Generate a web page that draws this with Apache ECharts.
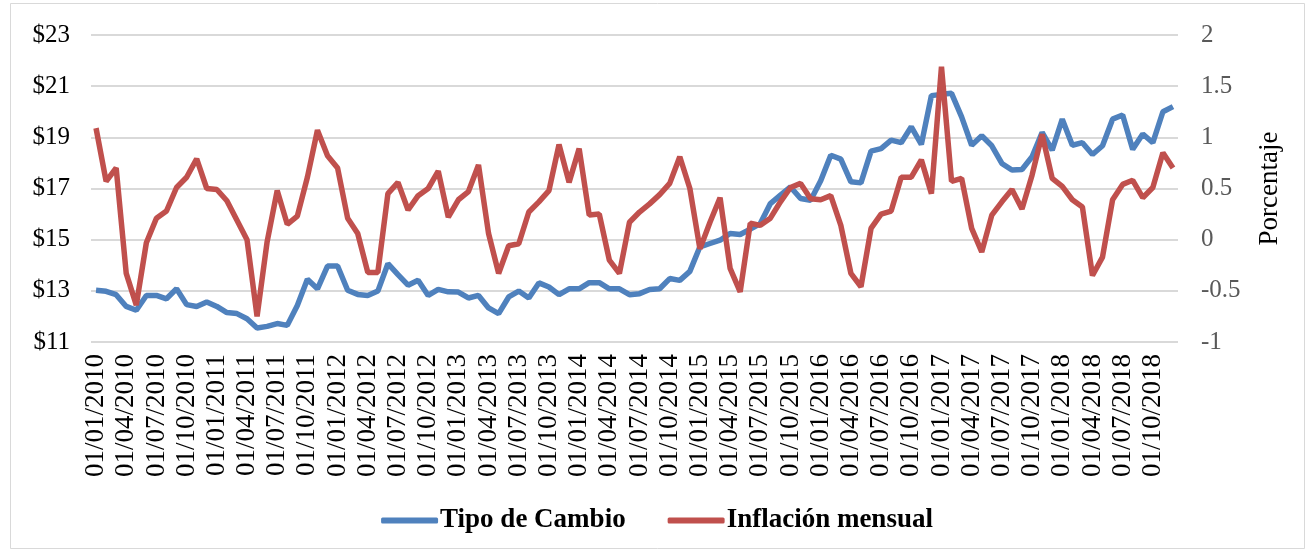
<!DOCTYPE html>
<html>
<head>
<meta charset="utf-8">
<title>Tipo de Cambio e Inflación mensual</title>
<script src="https://cdn.jsdelivr.net/npm/echarts@6/dist/echarts.min.js"></script>
<style>
  html, body { margin: 0; padding: 0; background: #fff; }
  #chart { width: 1314px; height: 553px; }
</style>
</head>
<body>
<div id="chart"></div>
<script>
// fechas mensuales (dd/mm/aaaa)
const fechas = [
  '01/01/2010','01/02/2010','01/03/2010','01/04/2010','01/05/2010','01/06/2010','01/07/2010','01/08/2010','01/09/2010','01/10/2010','01/11/2010','01/12/2010',
  '01/01/2011','01/02/2011','01/03/2011','01/04/2011','01/05/2011','01/06/2011','01/07/2011','01/08/2011','01/09/2011','01/10/2011','01/11/2011','01/12/2011',
  '01/01/2012','01/02/2012','01/03/2012','01/04/2012','01/05/2012','01/06/2012','01/07/2012','01/08/2012','01/09/2012','01/10/2012','01/11/2012','01/12/2012',
  '01/01/2013','01/02/2013','01/03/2013','01/04/2013','01/05/2013','01/06/2013','01/07/2013','01/08/2013','01/09/2013','01/10/2013','01/11/2013','01/12/2013',
  '01/01/2014','01/02/2014','01/03/2014','01/04/2014','01/05/2014','01/06/2014','01/07/2014','01/08/2014','01/09/2014','01/10/2014','01/11/2014','01/12/2014',
  '01/01/2015','01/02/2015','01/03/2015','01/04/2015','01/05/2015','01/06/2015','01/07/2015','01/08/2015','01/09/2015','01/10/2015','01/11/2015','01/12/2015',
  '01/01/2016','01/02/2016','01/03/2016','01/04/2016','01/05/2016','01/06/2016','01/07/2016','01/08/2016','01/09/2016','01/10/2016','01/11/2016','01/12/2016',
  '01/01/2017','01/02/2017','01/03/2017','01/04/2017','01/05/2017','01/06/2017','01/07/2017','01/08/2017','01/09/2017','01/10/2017','01/11/2017','01/12/2017',
  '01/01/2018','01/02/2018','01/03/2018','01/04/2018','01/05/2018','01/06/2018','01/07/2018','01/08/2018','01/09/2018','01/10/2018','01/11/2018','01/12/2018'
];

// pesos por dólar
const tipoCambio = [
  13.02, 12.98, 12.85, 12.39, 12.24, 12.82, 12.82, 12.69, 13.08, 12.46, 12.39, 12.56,
  12.39, 12.15, 12.11, 11.91, 11.55, 11.61, 11.72, 11.65, 12.43, 13.45, 13.08, 13.97,
  13.97, 13.02, 12.86, 12.82, 12.99, 14.06, 13.63, 13.22, 13.41, 12.82, 13.06, 12.96,
  12.95, 12.72, 12.82, 12.33, 12.11, 12.76, 12.99, 12.72, 13.31, 13.15, 12.85, 13.08,
  13.08, 13.32, 13.32, 13.08, 13.08, 12.85, 12.89, 13.05, 13.08, 13.48, 13.41, 13.76,
  14.72, 14.85, 14.98, 15.24, 15.20, 15.41, 15.63, 16.41, 16.74, 17.06, 16.61, 16.54,
  17.30, 18.30, 18.15, 17.26, 17.22, 18.46, 18.56, 18.89, 18.79, 19.41, 18.72, 20.63,
  20.68, 20.72, 19.80, 18.69, 19.06, 18.67, 17.98, 17.72, 17.74, 18.24, 19.19, 18.50,
  19.71, 18.69, 18.79, 18.33, 18.67, 19.71, 19.87, 18.53, 19.13, 18.79, 20.00, 20.20
];

// inflación mensual (%)
const inflacion = [
  1.09, 0.57, 0.70, -0.33, -0.64, -0.03, 0.21, 0.28, 0.51, 0.61, 0.79, 0.50,
  0.49, 0.38, 0.19, 0.00, -0.75, -0.02, 0.48, 0.15, 0.23, 0.61, 1.07, 0.82,
  0.70, 0.21, 0.06, -0.32, -0.32, 0.45, 0.56, 0.29, 0.43, 0.50, 0.67, 0.22,
  0.39, 0.47, 0.73, 0.06, -0.33, -0.06, -0.04, 0.27, 0.37, 0.48, 0.93, 0.56,
  0.89, 0.24, 0.25, -0.20, -0.33, 0.17, 0.27, 0.35, 0.44, 0.55, 0.81, 0.50,
  -0.09, 0.17, 0.41, -0.28, -0.51, 0.16, 0.14, 0.21, 0.37, 0.51, 0.55, 0.40,
  0.39, 0.43, 0.14, -0.33, -0.46, 0.11, 0.25, 0.28, 0.61, 0.61, 0.78, 0.45,
  1.69, 0.57, 0.60, 0.11, -0.12, 0.24, 0.37, 0.49, 0.30, 0.63, 1.03, 0.60,
  0.52, 0.39, 0.32, -0.35, -0.17, 0.39, 0.54, 0.58, 0.41, 0.51, 0.85, 0.70
];

const serif = "'Liberation Serif', 'Times New Roman', serif";

const chart = echarts.init(document.getElementById('chart'), null, { renderer: 'canvas' });

const option = {
  backgroundColor: '#fff',
  animation: false,
  graphic: [{
    type: 'rect',
    shape: { x: 10.5, y: 3.5, width: 1294, height: 545 },
    style: { fill: 'none', stroke: '#D9D9D9', lineWidth: 1 },
    silent: true
  }],
  grid: { left: 91, right: 136, top: 35, bottom: 211 },
  legend: {
    bottom: 14,
    left: 'center',
    icon: 'roundRect',
    itemWidth: 57,
    itemHeight: 6,
    itemGap: 42,
    textStyle: { fontFamily: serif, fontSize: 27, fontWeight: 'bold', color: '#000', padding: [0, 0, 0, -3] },
    data: ['Tipo de Cambio', 'Inflación mensual']
  },
  xAxis: {
    type: 'category',
    data: fechas,
    boundaryGap: true,
    axisLine: { show: false },
    axisTick: { show: false },
    axisLabel: {
      interval: 2,
      rotate: 90,
      margin: 12,
      fontFamily: serif,
      fontSize: 27,
      color: '#000'
    }
  },
  yAxis: [
    {
      type: 'value',
      min: 11,
      max: 23,
      interval: 2,
      axisLine: { show: false },
      axisTick: { show: false },
      splitLine: { lineStyle: { color: '#D9D9D9', width: 2 } },
      axisLabel: {
        margin: 21,
        fontFamily: serif,
        fontSize: 25,
        color: '#000',
        formatter: v => '$' + v
      }
    },
    {
      type: 'value',
      min: -1,
      max: 2,
      interval: 0.5,
      position: 'right',
      name: 'Porcentaje',
      nameLocation: 'middle',
      nameRotate: 90,
      nameGap: 78,
      nameTextStyle: { fontFamily: serif, fontSize: 27, color: '#000' },
      axisLine: { show: false },
      axisTick: { show: false },
      splitLine: { show: false },
      axisLabel: {
        margin: 23,
        fontFamily: serif,
        fontSize: 25,
        color: '#595959'
      }
    }
  ],
  series: [
    {
      name: 'Tipo de Cambio',
      type: 'line',
      yAxisIndex: 0,
      data: tipoCambio,
      symbol: 'none',
      lineStyle: { color: '#4F81BD', width: 5.5 },
      itemStyle: { color: '#4F81BD' }
    },
    {
      name: 'Inflación mensual',
      type: 'line',
      yAxisIndex: 1,
      data: inflacion,
      symbol: 'none',
      lineStyle: { color: '#C0504D', width: 5.5 },
      itemStyle: { color: '#C0504D' }
    }
  ]
};

chart.setOption(option);
</script>
</body>
</html>
